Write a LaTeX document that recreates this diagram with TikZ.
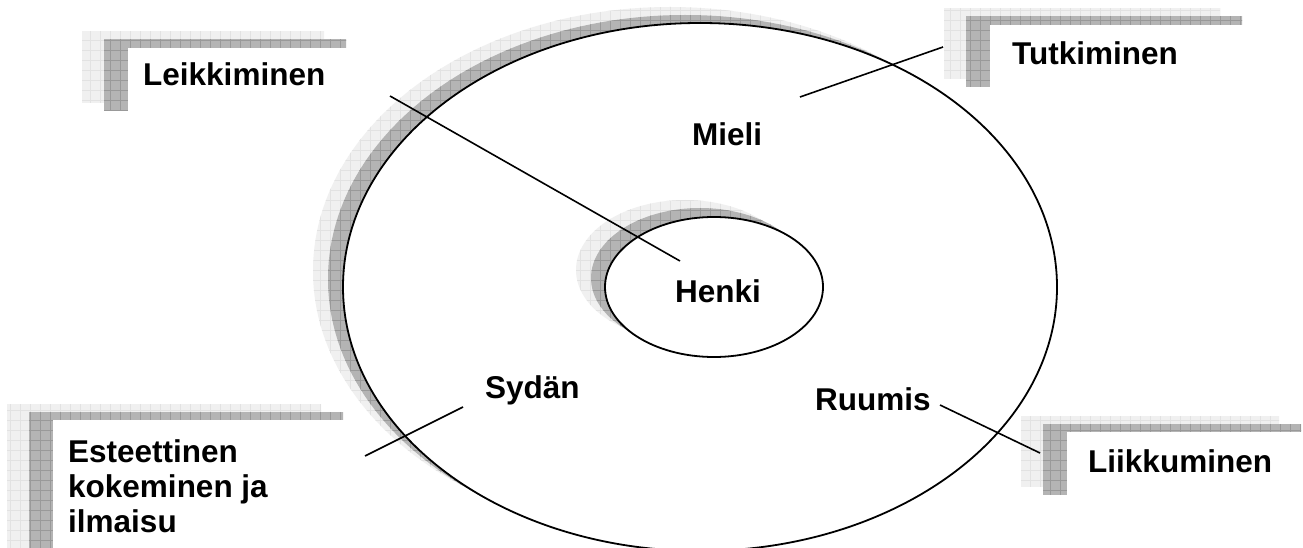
\documentclass[tikz,border=0pt]{standalone}
\usepackage{fontspec}
\setmainfont{Liberation Sans}
\usetikzlibrary{shapes.geometric}
\definecolor{shlight}{HTML}{F0F0F0}
\definecolor{shlightgrid}{HTML}{E2E2E2}
\definecolor{shdark}{HTML}{B4B4B4}
\definecolor{shdarkgrid}{HTML}{999999}
\newcommand\gridshade[2]{%
  \begin{scope}
    \clip #1;
    \fill[sh#2] (-20,570) rectangle (1320,-20);
    \draw[sh#2grid, line width=0.6pt, step=10pt] (-20,570) grid (1320,-20);
  \end{scope}}
\tikzset{
  lbl/.style={font=\fontsize{31.5}{35}\selectfont\bfseries, inner sep=0pt, anchor=base west},
  ringshape/.style={draw=black, fill=white, ellipse, inner sep=0pt, line width=1.8pt},
  callout/.style={fill=white, draw=none, rectangle, inner sep=0pt, anchor=north west},
  conn/.style={draw=black, line width=1.6pt}
}
\begin{document}
\begin{tikzpicture}[x=1pt,y=-1pt]
\useasboundingbox (0,0) rectangle (1303,548);
\clip (0,0) rectangle (1303,548);
\fill[white] (0,0) rectangle (1303,548);

% outer ellipse with shadows
\gridshade{(670,271) ellipse [x radius=357pt, y radius=264pt]}{light}
\gridshade{(685,279) ellipse [x radius=357pt, y radius=264pt]}{dark}
\node[ringshape, minimum width=714pt, minimum height=528pt] (outer) at (700,287) {};

% inner ellipse with shadows
\gridshade{(685,270) ellipse [x radius=109pt, y radius=70pt]}{light}
\gridshade{(700,278) ellipse [x radius=109pt, y radius=70pt]}{dark}
\node[ringshape, minimum width=218pt, minimum height=140pt] (inner) at (714,287) {};

% callout boxes with shadows
\gridshade{(82,32) rectangle (324,103)}{light}
\gridshade{(104,40) rectangle (346,111)}{dark}
\node[callout, minimum width=242pt, minimum height=71pt] (leikbox) at (128,48) {};

\gridshade{(944,9) rectangle (1220,79)}{light}
\gridshade{(966,17) rectangle (1242,87)}{dark}
\node[callout, minimum width=276pt, minimum height=70pt] (tutkbox) at (990,25) {};

\gridshade{(7,404) rectangle (321,560)}{light}
\gridshade{(29,412) rectangle (343,560)}{dark}
\node[callout, minimum width=314pt, minimum height=150pt] (estbox) at (53,420) {};

\gridshade{(1021,416) rectangle (1279,486)}{light}
\gridshade{(1043,424) rectangle (1301,494)}{dark}
\node[callout, minimum width=258pt, minimum height=70pt] (liikbox) at (1067,432) {};

% labels
\node[lbl] (leik) at (143,86) {Leikkiminen};
\node[lbl] (tutk) at (1012,65) {Tutkiminen};
\node[lbl] (est) at (68,462) {\begin{tabular}[t]{@{}l@{}}Esteettinen\\kokeminen ja\\ilmaisu\end{tabular}};
\node[lbl] (liik) at (1088,472) {Liikkuminen};
\node[lbl] (mieli) at (692,146) {Mieli};
\node[lbl] (henki) at (675,302) {Henki};
\node[lbl] (sydan) at (485,398) {Sydän};
\node[lbl] (ruumis) at (815,410) {Ruumis};

% connector end points
\coordinate (leikA) at (390,96);
\coordinate (leikB) at (680,261);
\coordinate (tutkA) at (800,97);
\coordinate (tutkB) at (943,47);
\coordinate (sydA) at (463,407);
\coordinate (sydB) at (365,456);
\coordinate (ruuA) at (940,405);
\coordinate (ruuB) at (1040,453);

\draw[conn] (leikA) -- (leikB);
\draw[conn] (tutkA) -- (tutkB);
\draw[conn] (sydA) -- (sydB);
\draw[conn] (ruuA) -- (ruuB);
\end{tikzpicture}
\end{document}
